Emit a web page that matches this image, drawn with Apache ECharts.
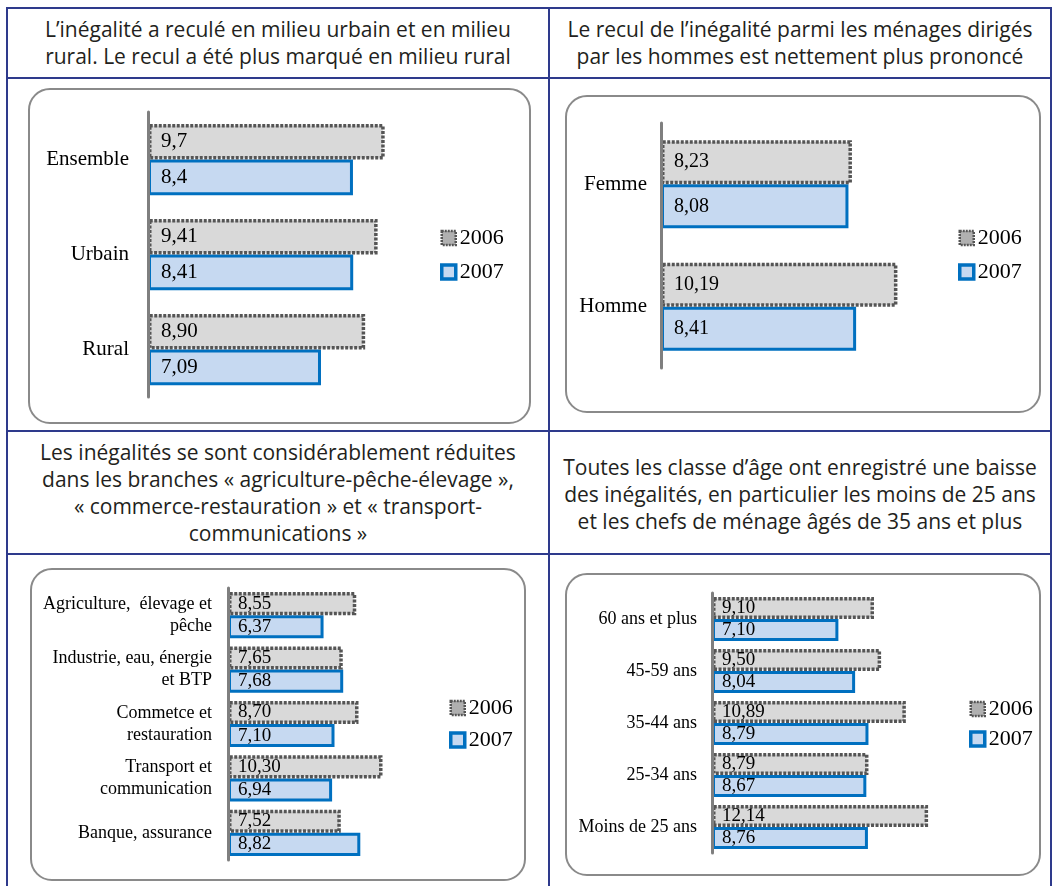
<!DOCTYPE html>
<html>
<head>
<meta charset="utf-8">
<script src="https://cdn.jsdelivr.net/npm/echarts@6/dist/echarts.min.js"></script>
<style>
  html, body { margin: 0; padding: 0; background: #fff; }
  #page { position: relative; width: 1056px; height: 886px; overflow: hidden; }
  .hl { position: absolute; height: 2px; background: #2e3a8c; }
  .vl { position: absolute; width: 2px; background: #2e3a8c; }
  .title { position: absolute; display: flex; align-items: center; justify-content: center;
           text-align: center; font-family: "Open Sans", sans-serif; font-size: 21px;
           line-height: 27px; color: #231f20; white-space: nowrap; }
  .box { position: absolute; border: 2px solid #8a8a8a; border-radius: 22px;
         box-sizing: border-box; background: #fff; }
  #chart { position: absolute; left: 0; top: 0; width: 1056px; height: 886px; }
</style>
</head>
<body>
<div id="page">
  <!-- panel frames -->
  <div class="box" style="left:28px;top:88px;width:503px;height:336px"></div>
  <div class="box" style="left:565px;top:95px;width:476px;height:318px"></div>
  <div class="box" style="left:30px;top:568px;width:496px;height:313px"></div>
  <div class="box" style="left:565px;top:573px;width:476px;height:303px"></div>

  <!-- table rules -->
  <div class="hl" style="left:7px;top:7px;width:1045px"></div>
  <div class="hl" style="left:7px;top:77px;width:1045px"></div>
  <div class="hl" style="left:7px;top:430px;width:1045px"></div>
  <div class="hl" style="left:7px;top:553px;width:1045px"></div>
  <div class="vl" style="left:6px;top:7px;height:879px"></div>
  <div class="vl" style="left:548px;top:7px;height:879px"></div>
  <div class="vl" style="left:1050px;top:7px;height:879px"></div>

  <!-- headings -->
  <div class="title" style="left:8px;top:9px;width:540px;height:68px">L’inégalité a reculé en milieu urbain et en milieu<br>rural. Le recul a été plus marqué en milieu rural</div>
  <div class="title" style="left:550px;top:9px;width:500px;height:68px">Le recul de l’inégalité parmi les ménages dirigés<br>par les hommes est nettement plus prononcé</div>
  <div class="title" style="left:8px;top:432px;width:540px;height:121px">Les inégalités se sont considérablement réduites<br>dans les branches « agriculture-pêche-élevage »,<br>« commerce-restauration » et « transport-<br>communications »</div>
  <div class="title" style="left:550px;top:434px;width:500px;height:121px">Toutes les classe d’âge ont enregistré une baisse<br>des inégalités, en particulier les moins de 25 ans<br>et les chefs de ménage âgés de 35 ans et plus</div>

  <div id="chart"></div>
</div>
<script>
// Inequality index by group, 2006 vs 2007 (values as printed, decimal comma)
const years = ['2006', '2007'];

const milieuCategories = ['Ensemble', 'Urbain', 'Rural'];
const milieu2006 = ['9,7', '9,41', '8,90'];
const milieu2007 = ['8,4', '8,41', '7,09'];

const sexeCategories = ['Femme', 'Homme'];
const sexe2006 = ['8,23', '10,19'];
const sexe2007 = ['8,08', '8,41'];

const brancheCategories = ['Agriculture,  élevage et\npêche', 'Industrie, eau, énergie\net BTP',
  'Commetce et\nrestauration', 'Transport et\ncommunication', 'Banque, assurance'];
const branche2006 = ['8,55', '7,65', '8,70', '10,30', '7,52'];
const branche2007 = ['6,37', '7,68', '7,10', '6,94', '8,82'];

const ageCategories = ['60 ans et plus', '45-59 ans', '35-44 ans', '25-34 ans', 'Moins de 25 ans'];
const age2006 = ['9,10', '9,50', '10,89', '8,79', '12,14'];
const age2007 = ['7,10', '8,04', '8,79', '8,67', '8,76'];

// Layout of the four panels on the page
const panels = [
  { cats: milieuCategories, s2006: milieu2006, s2007: milieu2007,
    grid: { left: 148, top: 112, width: 366, height: 285 }, xMax: 15, gap: '25%',
    catFont: 21, catLine: 24, catMargin: 19, valFont: 21, valDist: 13,
    legend: { left: 440, top: 227, gap: 12 } },
  { cats: sexeCategories, s2006: sexe2006, s2007: sexe2007,
    grid: { left: 661, top: 123, width: 348, height: 245 }, xMax: 15, gap: '28%',
    catFont: 21, catLine: 24, catMargin: 14, valFont: 20, valDist: 13,
    legend: { left: 958, top: 227, gap: 12 } },
  { cats: brancheCategories, s2006: branche2006, s2007: branche2007,
    grid: { left: 228, top: 588, width: 300, height: 272 }, xMax: 20, gap: '15%',
    catFont: 18, catLine: 22, catMargin: 16, valFont: 19, valDist: 10,
    legend: { left: 449, top: 697, gap: 10 } },
  { cats: ageCategories, s2006: age2006, s2007: age2007,
    grid: { left: 712, top: 593, width: 267, height: 260 }, xMax: 15, gap: '15%',
    catFont: 18, catLine: 22, catMargin: 15, valFont: 19, valDist: 10,
    legend: { left: 969, top: 698, gap: 8 } }
];

const style2006 = { color: '#d9d9d9', borderColor: '#555555', borderWidth: 3.5, borderType: [3, 1.5] };
const style2007 = { color: '#c6d9f1', borderColor: '#0070c0', borderWidth: 3 };
const serif = '"Liberation Serif", "Times New Roman", serif';

const toPoints = arr => arr.map(s => ({ value: parseFloat(s.replace(',', '.')), text: s }));

const option = {
  animation: false,
  grid: panels.map(p => Object.assign({ containLabel: false }, p.grid)),
  xAxis: panels.map((p, i) => ({ type: 'value', gridIndex: i, min: 0, max: p.xMax, show: false })),
  yAxis: panels.map((p, i) => ({
    type: 'category', gridIndex: i, data: p.cats, inverse: true, z: 5,
    axisLine: { lineStyle: { color: '#7f7f7f', width: 3 } },
    axisTick: { length: 8, lineStyle: { color: '#7f7f7f', width: 2 } },
    axisLabel: { margin: p.catMargin, fontFamily: serif, fontSize: p.catFont,
                 lineHeight: p.catLine, color: '#000' }
  })),
  legend: panels.map(p => ({
    left: p.legend.left, top: p.legend.top, orient: 'vertical', selectedMode: false,
    itemWidth: 14, itemHeight: 14, itemGap: p.legend.gap, padding: 0,
    textStyle: { fontFamily: serif, fontSize: 22, lineHeight: 22, color: '#000', padding: [0, 0, 0, -1] },
    data: [
      { name: years[0], icon: 'rect', itemStyle: { color: '#b0b0b0', borderColor: '#555555', borderWidth: 2.5, borderType: [2, 1] } },
      { name: years[1], icon: 'rect', itemStyle: { color: '#c6d9f1', borderColor: '#0070c0', borderWidth: 3.5 } }
    ]
  })),
  series: panels.flatMap((p, i) => [
    { name: years[0], type: 'bar', xAxisIndex: i, yAxisIndex: i, z: 3,
      barGap: '0%', barCategoryGap: p.gap,
      data: toPoints(p.s2006), itemStyle: style2006,
      label: { show: true, position: 'insideLeft', distance: p.valDist, formatter: d => d.data.text,
               fontFamily: serif, fontSize: p.valFont, color: '#000' } },
    { name: years[1], type: 'bar', xAxisIndex: i, yAxisIndex: i, z: 2,
      barGap: '0%', barCategoryGap: p.gap,
      data: toPoints(p.s2007), itemStyle: style2007,
      label: { show: true, position: 'insideLeft', distance: p.valDist, formatter: d => d.data.text,
               fontFamily: serif, fontSize: p.valFont, color: '#000' } }
  ])
};

const chart = echarts.init(document.getElementById('chart'), null, { renderer: 'canvas' });
chart.setOption(option);
</script>
</body>
</html>
